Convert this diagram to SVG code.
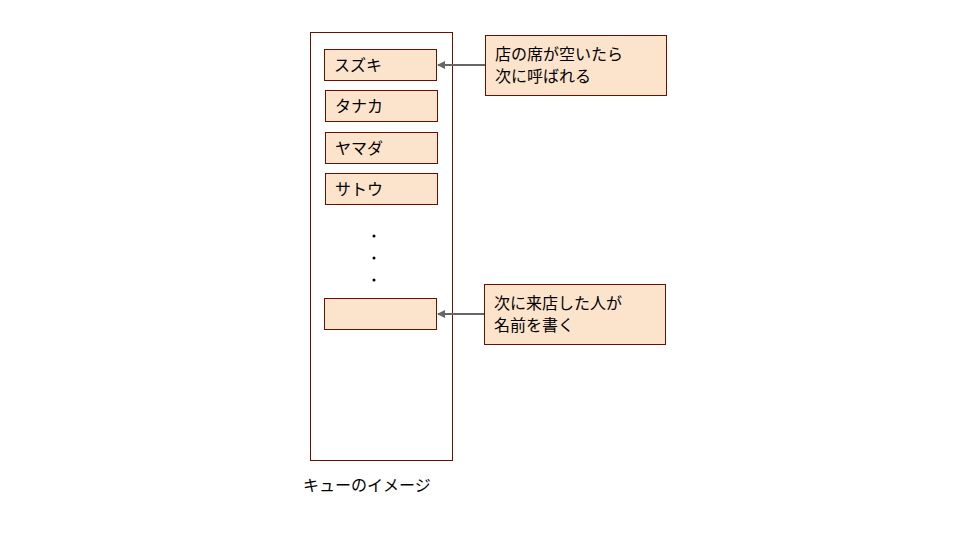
<svg xmlns="http://www.w3.org/2000/svg" width="960" height="540" viewBox="0 0 960 540">
<style>
.b{fill:#fce4cc;stroke:#6b0f00;stroke-width:1}
.t{font-family:"Noto Sans CJK JP",sans-serif;font-size:16px;fill:#000}
.c{stroke:#666;stroke-width:2;fill:none}
</style>
<defs><marker id="a" markerWidth="8" markerHeight="8" refX="7" refY="4" orient="auto" markerUnits="userSpaceOnUse"><path d="M0,0 L8,4 L0,8 Z" fill="#666"/></marker></defs>
<rect width="960" height="540" fill="#fff"/>
<g id="queue"><rect x="310.5" y="32.5" width="142" height="428" fill="#fff" stroke="#6b0f00"/></g>
<g id="n1"><rect class="b" x="324.5" y="49.5" width="112" height="31"/><text class="t" x="334" y="71">スズキ</text></g>
<g id="n2"><rect class="b" x="325.5" y="90.5" width="112" height="31"/><text class="t" x="335" y="112">タナカ</text></g>
<g id="n3"><rect class="b" x="325.5" y="132.5" width="112" height="31"/><text class="t" x="335" y="154">ヤマダ</text></g>
<g id="n4"><rect class="b" x="325.5" y="173.5" width="112" height="31"/><text class="t" x="335" y="195">サトウ</text></g>
<g id="dots"><circle cx="374" cy="236" r="1.5"/><circle cx="374" cy="258" r="1.5"/><circle cx="374" cy="280" r="1.5"/></g>
<g id="n5"><rect class="b" x="324.5" y="298.5" width="112" height="31"/></g>
<g id="note1"><rect class="b" x="485.5" y="35.5" width="181" height="60"/><text class="t" x="495" y="60">店の席が空いたら</text><text class="t" x="495" y="82">次に呼ばれる</text></g>
<g id="note2"><rect class="b" x="484.5" y="284.5" width="181" height="60"/><text class="t" x="494" y="309">次に来店した人が</text><text class="t" x="494" y="331">名前を書く</text></g>
<g id="connectors">
<line class="c" x1="485" y1="65" x2="438" y2="65" marker-end="url(#a)"/>
<line class="c" x1="484" y1="314" x2="438" y2="314" marker-end="url(#a)"/>
</g>
<text class="t" x="303" y="491">キューのイメージ</text>
</svg>
